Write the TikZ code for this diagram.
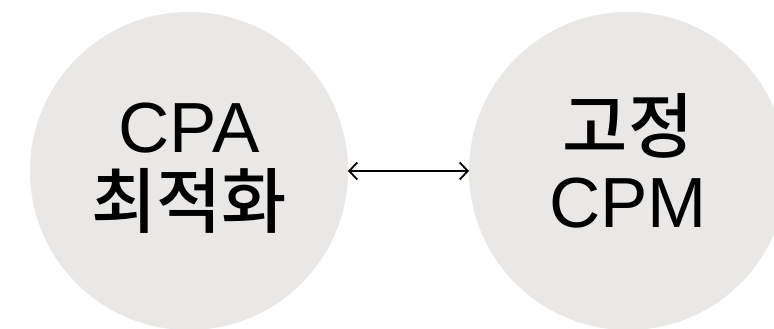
\documentclass[tikz,border=0pt]{standalone}
\usepackage{fontspec}
\setmainfont{Liberation Sans}
\newfontfamily\kr{Noto Sans CJK KR Medium}
\usetikzlibrary{arrows.meta}
\definecolor{circgray}{HTML}{E9E8E6}
\newcommand{\topstrut}{\rule{0pt}{62pt}}
\newcommand{\botstrut}{\rule[-23.5pt]{0pt}{23.5pt}}
\tikzset{
  bubble/.style={circle, fill=circgray, draw=none, minimum size=318pt,
    inner sep=0pt, outer sep=0pt, align=center,
    font=\fontsize{71}{74.5}\selectfont},
  link/.style={line width=1.8pt,
    {Straight Barb[length=8pt,width=17pt]}-{Straight Barb[length=8pt,width=17pt]}}
}
\begin{document}
\begin{tikzpicture}[x=1pt,y=1pt]
\fill[white] (0,0) rectangle (774,329);
\useasboundingbox (0,0) rectangle (774,329);
\node[bubble] (L) at (189,158) {\topstrut CPA\\{\kr 최적화}\botstrut};
\node[bubble] (R) at (628,158) {\topstrut {\kr 고정}\\CPM\botstrut};
\draw[link] (L) -- (R);
\end{tikzpicture}
\end{document}
